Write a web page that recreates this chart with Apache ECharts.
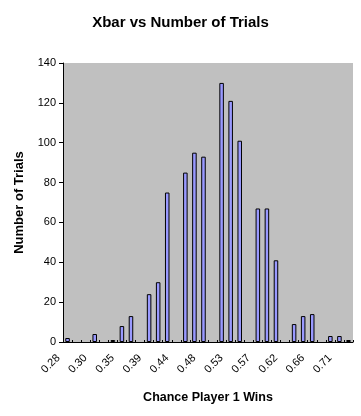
<!DOCTYPE html>
<html>
<head>
<meta charset="utf-8">
<script src="https://cdn.jsdelivr.net/npm/echarts@6/dist/echarts.min.js"></script>
<style>html,body{margin:0;padding:0;background:#fff}#c{width:361px;height:416px}</style>
</head>
<body>
<div id="c"></div>
<script>
const categories = ['0.28','0.29','0.29','0.30','0.32','0.33','0.35','0.36','0.38','0.39','0.41','0.42','0.44','0.45','0.47','0.48','0.50','0.51','0.53','0.54','0.56','0.57','0.59','0.60','0.62','0.63','0.65','0.66','0.68','0.69','0.71','0.72'];
const trials = [2,0,0,4,0,1,8,13,0,24,30,75,0,85,95,93,0,130,121,101,0,67,67,41,0,9,13,14,0,3,3,1];
const yTicks = {min:0, max:140, interval:20};
const font = 'Liberation Sans, Arial, sans-serif';
const chart = echarts.init(document.getElementById('c'), null, {renderer:'canvas'});
const barData = trials.map(v => v === 0 ? '-' : v);
chart.setOption({
  backgroundColor:'#ffffff',
  animation:false,
  title:{text:'Xbar vs Number of Trials', left:'center', top:10,
    textStyle:{fontFamily:font, fontSize:15, fontWeight:'bold', color:'#000'}},
  grid:{left:63, top:63, right:8, bottom:74, show:true, backgroundColor:'#C0C0C0', borderWidth:0},
  xAxis:[{type:'category', data:categories,
    name:'Chance Player 1 Wins', nameLocation:'middle', nameGap:49,
    nameTextStyle:{fontFamily:font, fontSize:12.5, fontWeight:'bold', color:'#000'},
    axisLine:{lineStyle:{color:'#000', width:1}},
    axisTick:{interval:0, length:3, lineStyle:{color:'#000'}},
    axisLabel:{interval:2, rotate:45, margin:5, padding:[0,13,0,0], fontFamily:font, fontSize:11, color:'#000'},
    splitLine:{show:false}},
   {type:'category', data:categories, position:'bottom', gridIndex:0,
    axisLine:{show:false}, axisLabel:{show:false},
    axisTick:{show:true, inside:true, interval:0, length:2, lineStyle:{color:'#000'}}}],
  yAxis:{type:'value', min:yTicks.min, max:yTicks.max, interval:yTicks.interval,
    name:'Number of Trials', nameLocation:'middle', nameGap:37,
    nameTextStyle:{fontFamily:font, fontSize:13, fontWeight:'bold', color:'#000'},
    axisLine:{show:true, lineStyle:{color:'#000', width:1}},
    axisTick:{show:true, length:4, lineStyle:{color:'#000'}},
    axisLabel:{margin:7, fontFamily:font, fontSize:11, color:'#000'},
    splitLine:{show:false}},
  series:[{type:'bar', data:barData, barWidth:'50%',
    itemStyle:{color:'#9999FF', borderColor:'#000', borderWidth:1}}]
});
</script>
</body>
</html>
